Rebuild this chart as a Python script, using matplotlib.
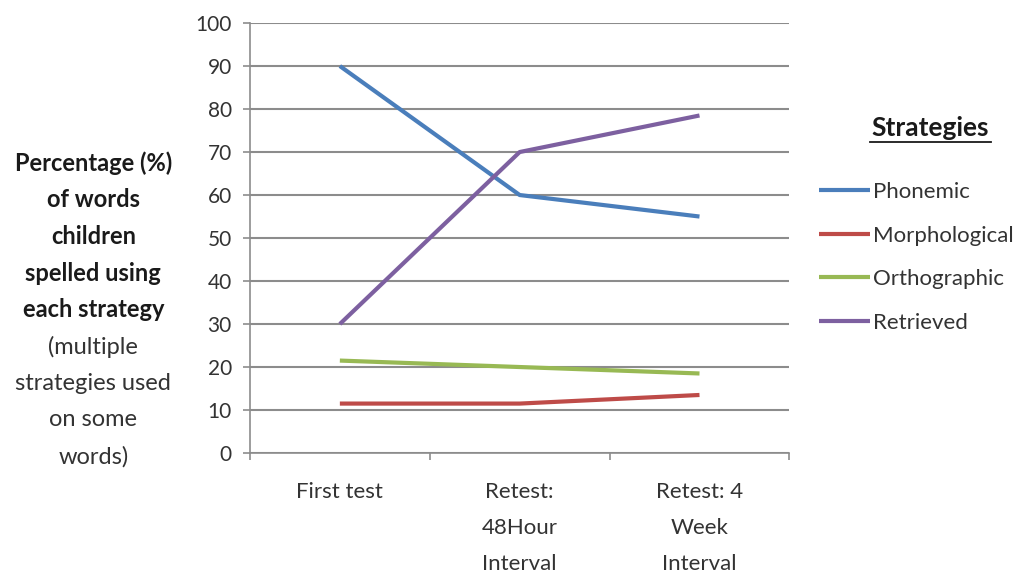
import matplotlib.pyplot as plt
from matplotlib.lines import Line2D

# data
categories = ["First test", "Retest:\n48Hour\nInterval", "Retest: 4\nWeek\nInterval"]
phonemic = [90, 60, 55]
morphological = [11.5, 11.5, 13.5]
orthographic = [21.5, 20, 18.5]
retrieved = [30, 70, 78.5]
series_names = ["Phonemic", "Morphological", "Orthographic", "Retrieved"]
y_ticks = list(range(0, 101, 10))

colors = ["#4A7EBB", "#BE4B48", "#98B954", "#7D60A0"]
grid_color = "#8C8C8C"
text_color = "#333333"

plt.rcParams['font.family'] = ['Lato', 'DejaVu Sans']

fig = plt.figure(figsize=(10.14, 5.76), dpi=100)
ax = fig.add_axes([0.2465, 0.2135, 0.532, 0.7465])

x = list(range(len(categories)))
for vals, name, c in zip([phonemic, morphological, orthographic, retrieved], series_names, colors):
    ax.plot(x, vals, color=c, linewidth=3, label=name, solid_capstyle='butt', zorder=3)

ax.set_xlim(-0.5, len(categories) - 0.5)
ax.set_ylim(0, 100)
ax.set_yticks(y_ticks)
ax.set_yticklabels([str(v) for v in y_ticks], fontsize=15, color=text_color)
ax.yaxis.grid(True, color=grid_color, linewidth=1.5)
ax.set_axisbelow(True)

# category boundaries get the tick marks, centres get the labels
ax.set_xticks([i - 0.5 for i in range(len(categories) + 1)])
ax.set_xticklabels([])
ax.set_xticks(x, minor=True)
ax.set_xticklabels(categories, minor=True, fontsize=16, color=text_color, linespacing=2.0, va='top')
ax.tick_params(axis='x', which='minor', length=0, pad=21)
ax.tick_params(axis='x', which='major', length=5, color=grid_color, width=1.2)
ax.tick_params(axis='y', length=5, color=grid_color, width=1.2, pad=8)

for side in ['top', 'right']:
    ax.spines[side].set_visible(False)
for side in ['left', 'bottom']:
    ax.spines[side].set_color(grid_color)
    ax.spines[side].set_linewidth(1.2)

# y axis title, drawn line by line
ylab_lines = ["Percentage (%)", "of words", "children", "spelled using", "each strategy",
              "(multiple", "strategies used", "on some", "words)"]
y0 = 1 - 163 / 576
step = 36.7 / 576
for i, line in enumerate(ylab_lines):
    fig.text(0.092, y0 - i * step, line, ha='center', va='center', fontsize=17,
             fontweight='bold' if i < 5 else 'normal', color='#1a1a1a' if i < 5 else text_color)

# legend
leg = ax.legend(loc='upper left', bbox_to_anchor=(1.055, 0.63), frameon=False,
                handlelength=2.3, handletextpad=0.12, labelspacing=1.06, fontsize=16,
                borderaxespad=0, borderpad=0)
for t in leg.get_texts():
    t.set_color(text_color)

fig.text(0.917, 1 - 128 / 576, "Strategies", ha='center', va='center', fontsize=19,
         fontweight='bold', color='#1a1a1a')
fig.add_artist(Line2D([0.858, 0.977], [1 - 142 / 576] * 2, color='#1a1a1a', linewidth=1.3))

fig.savefig("out.png", dpi=100)
